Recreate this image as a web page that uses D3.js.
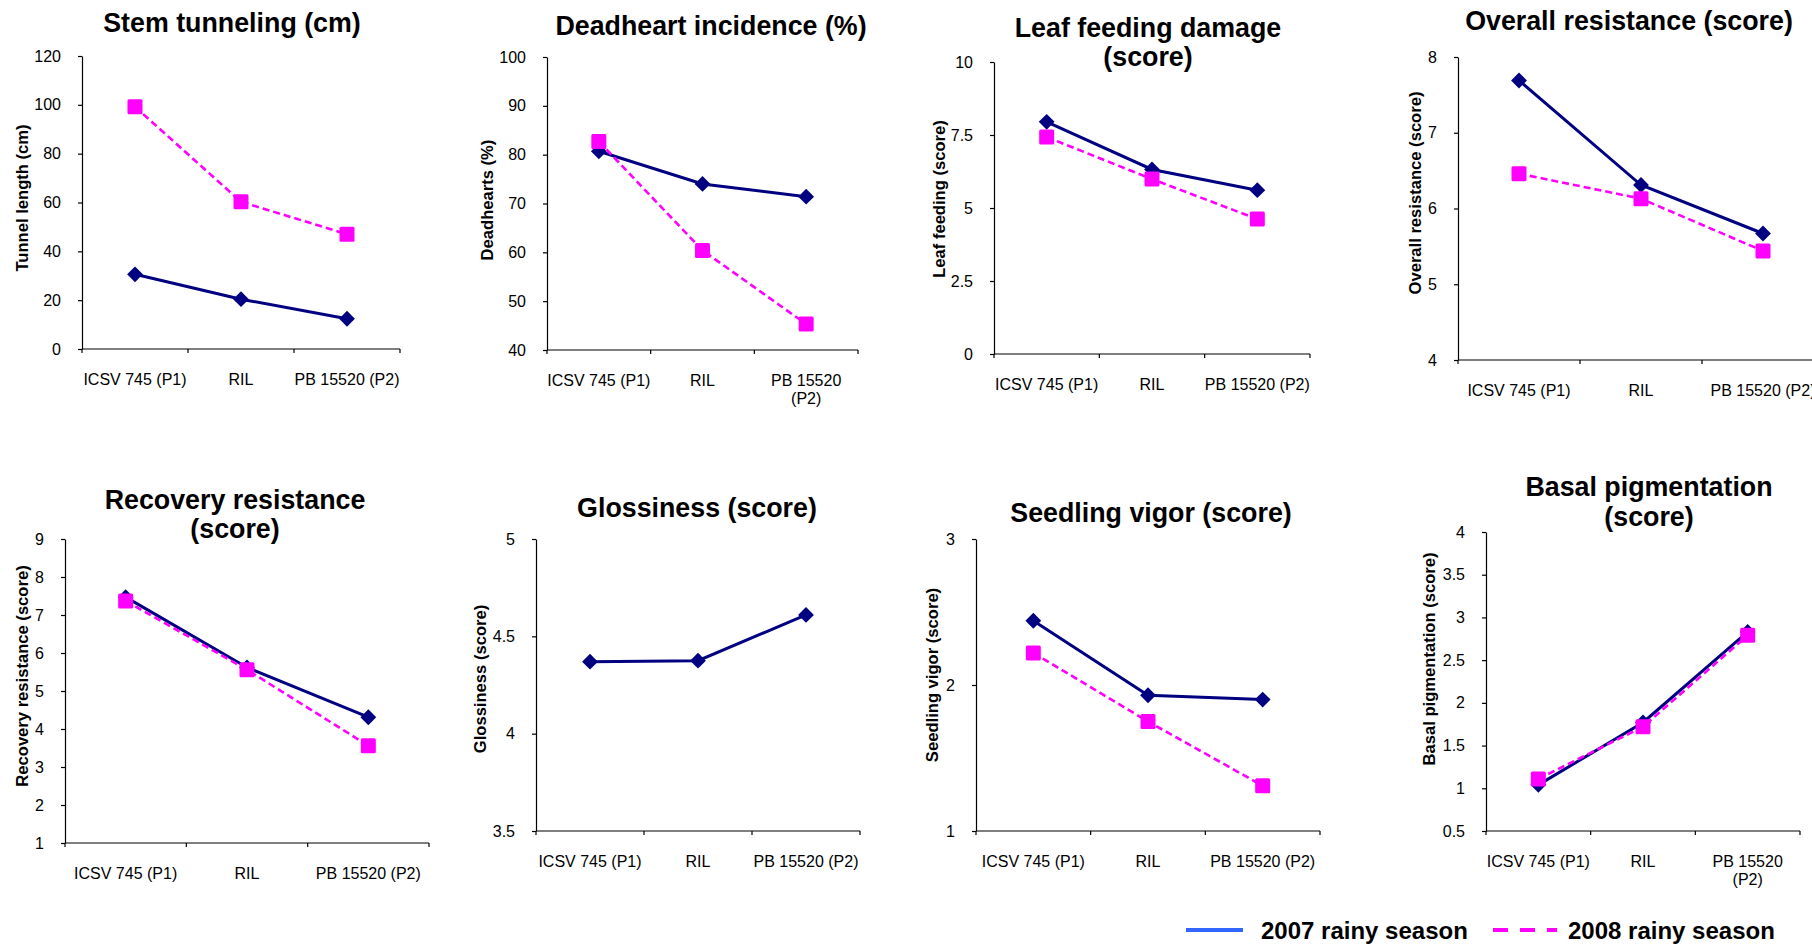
<!DOCTYPE html>
<meta charset="utf-8">
<style>
  body { margin: 0; background: #fff; }
  svg { display: block; font-family: "Liberation Sans", Arial, sans-serif; }
  .title { font-size: 26.8px; font-weight: bold; }
  .ylab { font-size: 16.6px; font-weight: bold; }
  .tick text, .cat { font-size: 16px; }
  .legend { font-size: 24px; font-weight: bold; }
</style>
<body>
<div id="chart"></div>
<script src="https://d3js.org/d3.v7.min.js"></script>
<script>
// categories (genotypes) and season names
const categories = ["ICSV 745 (P1)", "RIL", "PB 15520 (P2)"];
const seasons = ["2007 rainy season", "2008 rainy season"];

// values, one array per trait and season
const stem2007 = [30.6, 20.4, 12.4];
const stem2008 = [99.2, 60.3, 47.0];
const deadheart2007 = [80.7, 74.0, 71.4];
const deadheart2008 = [82.7, 60.4, 45.3];
const leaf2007 = [7.95, 6.32, 5.61];
const leaf2008 = [7.43, 5.99, 4.62];
const overall2007 = [7.69, 6.31, 5.67];
const overall2008 = [6.46, 6.13, 5.44];
const recovery2007 = [7.47, 5.62, 4.31];
const recovery2008 = [7.37, 5.56, 3.56];
const gloss2007 = [4.37, 4.375, 4.61];
const vigor2007 = [2.44, 1.93, 1.90];
const vigor2008 = [2.22, 1.75, 1.31];
const basal2007 = [1.04, 1.77, 2.83];
const basal2008 = [1.11, 1.72, 2.79];

// y-axis tick values
const stemTicks = [0, 20, 40, 60, 80, 100, 120];
const deadheartTicks = [40, 50, 60, 70, 80, 90, 100];
const leafTicks = [0, 2.5, 5, 7.5, 10];
const overallTicks = [4, 5, 6, 7, 8];
const recoveryTicks = [1, 2, 3, 4, 5, 6, 7, 8, 9];
const glossTicks = [3.5, 4, 4.5, 5];
const vigorTicks = [1, 2, 3];
const basalTicks = [0.5, 1, 1.5, 2, 2.5, 3, 3.5, 4];

const W = 1812, H = 944;
const navy = "#000080", magenta = "#ff00ff";

// panel setup: data refs + where each small chart sits
const panels = [
  { title: ["Stem tunneling (cm)"], ylab: "Tunnel length (cm)", ticks: stemTicks, a: stem2007, b: stem2008,
    x0: 82, x1: 400, y0: 56, y1: 349, tx: 232, ty: [32], lx: 22, ly: 198, wrap: false },
  { title: ["Deadheart incidence (%)"], ylab: "Deadhearts (%)", ticks: deadheartTicks, a: deadheart2007, b: deadheart2008,
    x0: 547, x1: 858, y0: 57, y1: 350, tx: 711, ty: [35], lx: 487, ly: 200, wrap: true },
  { title: ["Leaf feeding damage", "(score)"], ylab: "Leaf feeding (score)", ticks: leafTicks, a: leaf2007, b: leaf2008,
    x0: 994, x1: 1310, y0: 62, y1: 354, tx: 1148, ty: [37, 66], lx: 939, ly: 199, wrap: false },
  { title: ["Overall resistance (score)"], ylab: "Overall resistance (score)", ticks: overallTicks, a: overall2007, b: overall2008,
    x0: 1458, x1: 1824, y0: 57, y1: 360, tx: 1629, ty: [30], lx: 1415, ly: 193, wrap: false },
  { title: ["Recovery resistance", "(score)"], ylab: "Recovery resistance (score)", ticks: recoveryTicks, a: recovery2007, b: recovery2008,
    x0: 65, x1: 429, y0: 539, y1: 843, tx: 235, ty: [509, 538], lx: 22, ly: 676, wrap: false },
  { title: ["Glossiness (score)"], ylab: "Glossiness (score)", ticks: glossTicks, a: gloss2007, b: null,
    x0: 536, x1: 860, y0: 539, y1: 831, tx: 697, ty: [517], lx: 480, ly: 679, wrap: false },
  { title: ["Seedling vigor (score)"], ylab: "Seedling vigor (score)", ticks: vigorTicks, a: vigor2007, b: vigor2008,
    x0: 976, x1: 1320, y0: 539, y1: 831, tx: 1151, ty: [522], lx: 932, ly: 675, wrap: false },
  { title: ["Basal pigmentation", "(score)"], ylab: "Basal pigmentation (score)", ticks: basalTicks, a: basal2007, b: basal2008,
    x0: 1486, x1: 1800, y0: 532, y1: 831, tx: 1649, ty: [496, 526], lx: 1429, ly: 659, wrap: true }
];

const svg = d3.select("#chart").append("svg")
  .attr("width", W)
  .attr("height", H);

svg.append("rect").attr("width", W).attr("height", H).attr("fill", "#fff");

const fmt = d3.format("~g");

panels.forEach(p => {
  const g = svg.append("g");

  const x = d3.scaleBand().domain(categories).range([p.x0, p.x1]);
  const y = d3.scaleLinear().domain(d3.extent(p.ticks)).range([p.y1, p.y0]);
  const bw = x.bandwidth();

  // title
  const t = g.append("text").attr("class", "title").attr("text-anchor", "middle");
  p.title.forEach((line, i) => {
    t.append("tspan").attr("x", p.tx).attr("y", p.ty[i]).text(line);
  });

  // y axis
  const ya = g.append("g")
    .attr("transform", "translate(" + p.x0 + ",0)")
    .call(d3.axisLeft(y).tickValues(p.ticks).tickFormat(fmt).tickSize(4).tickSizeOuter(0).tickPadding(17));
  ya.selectAll("path, line").attr("stroke", "#000").attr("stroke-width", 1.2);
  ya.selectAll("text").attr("fill", "#000").style("font-family", "inherit");

  // x axis: line plus ticks at band edges
  const edges = categories.map(c => x(c)).concat([p.x1]);
  g.append("line")
    .attr("x1", p.x0).attr("x2", p.x1)
    .attr("y1", p.y1).attr("y2", p.y1)
    .attr("stroke", "#000").attr("stroke-width", 1.2);
  g.selectAll(".xt").data(edges).enter().append("line")
    .attr("x1", d => d).attr("x2", d => d)
    .attr("y1", p.y1).attr("y2", p.y1 + 4)
    .attr("stroke", "#000").attr("stroke-width", 1.2);

  // category labels
  categories.forEach(c => {
    const txt = g.append("text").attr("class", "cat").attr("text-anchor", "middle");
    const cx = x(c) + bw / 2;
    if (p.wrap && c === "PB 15520 (P2)") {
      txt.append("tspan").attr("x", cx).attr("y", p.y1 + 36).text("PB 15520");
      txt.append("tspan").attr("x", cx).attr("y", p.y1 + 54).text("(P2)");
    } else {
      txt.attr("x", cx).attr("y", p.y1 + 36).text(c);
    }
  });

  // y label
  g.append("text").attr("class", "ylab")
    .attr("text-anchor", "middle")
    .attr("transform", "translate(" + p.lx + "," + p.ly + ") rotate(-90)")
    .attr("dy", "0.36em")
    .text(p.ylab);

  const line = d3.line()
    .x((d, i) => x(categories[i]) + bw / 2)
    .y(d => y(d));

  // 2007 series: navy solid with diamonds
  g.append("path").datum(p.a)
    .attr("d", line)
    .attr("fill", "none").attr("stroke", navy).attr("stroke-width", 3);
  g.selectAll(".dia").data(p.a).enter().append("path")
    .attr("d", d3.symbol().type(d3.symbolSquare).size(125))
    .attr("transform", (d, i) => "translate(" + (x(categories[i]) + bw / 2) + "," + y(d) + ") rotate(45)")
    .attr("fill", navy);

  // 2008 series: magenta dashed with squares
  if (p.b) {
    g.append("path").datum(p.b)
      .attr("d", line)
      .attr("fill", "none").attr("stroke", magenta).attr("stroke-width", 2.6)
      .attr("stroke-dasharray", "7,4");
    g.selectAll(".sq").data(p.b).enter().append("rect")
      .attr("x", (d, i) => x(categories[i]) + bw / 2 - 7.5)
      .attr("y", d => y(d) - 7.5)
      .attr("width", 15).attr("height", 15)
      .attr("rx", 1.5)
      .attr("fill", magenta);
  }
});

// legend
const lg = svg.append("g");
lg.append("line")
  .attr("x1", 1186).attr("x2", 1243).attr("y1", 930).attr("y2", 930)
  .attr("stroke", "#3366ff").attr("stroke-width", 4);
lg.append("text").attr("class", "legend").attr("x", 1261).attr("y", 939).text(seasons[0]);
lg.append("line")
  .attr("x1", 1493).attr("x2", 1557).attr("y1", 930).attr("y2", 930)
  .attr("stroke", magenta).attr("stroke-width", 4)
  .attr("stroke-dasharray", "15,12");
lg.append("text").attr("class", "legend").attr("x", 1568).attr("y", 939).text(seasons[1]);
</script>
</body>
